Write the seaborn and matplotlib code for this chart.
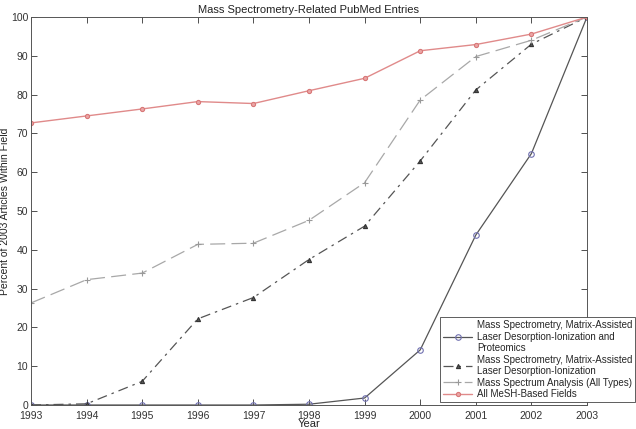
import matplotlib
matplotlib.use("Agg")
import matplotlib.pyplot as plt
import seaborn as sns
import pandas as pd

years = [1993, 1994, 1995, 1996, 1997, 1998, 1999, 2000, 2001, 2002, 2003]
proteomics = [0.0, 0.0, 0.0, 0.0, 0.0, 0.2, 1.8, 14.2, 43.8, 64.8, 100.0]
maldi = [0.0, 0.3, 6.1, 22.2, 27.7, 37.5, 46.1, 62.9, 81.2, 93.0, 100.0]
ms_analysis = [26.3, 32.3, 34.0, 41.4, 41.7, 47.6, 57.3, 78.6, 89.8, 94.0, 100.0]
mesh_all = [72.7, 74.5, 76.3, 78.2, 77.7, 81.0, 84.2, 91.3, 92.9, 95.6, 100.0]

labels = [
    "Mass Spectrometry, Matrix-Assisted\nLaser Desorption-Ionization and\nProteomics",
    "Mass Spectrometry, Matrix-Assisted\nLaser Desorption-Ionization",
    "Mass Spectrum Analysis (All Types)",
    "All MeSH-Based Fields",
]

sns.set_theme(style="white")
plt.rcParams['font.family'] = ['Liberation Sans', 'DejaVu Sans']

fig = plt.figure(figsize=(6.36, 4.29), dpi=100)
ax = fig.add_axes([31/636, 24/429, (587-31)/636, (405-17)/429])

styles = [
    dict(data=proteomics, color="#555555", ls="-", marker="o", mfc="none", mec="#7070b0", ms=4, lw=0.9),
    dict(data=maldi, color="#555555", ls=(0, (8, 4, 2, 4)), marker="^", mfc="#555555", mec="#333333", ms=3, lw=0.9),
    dict(data=ms_analysis, color="#a8a8a8", ls=(0, (12, 5)), marker="+", mfc="none", mec="#999999", ms=4, lw=0.9),
    dict(data=mesh_all, color="#e08a8a", ls="-", marker="o", mfc="#eba5a5", mec="#d87878", ms=3, lw=1.0),
]

for s, lab in zip(styles, labels):
    df = pd.DataFrame({"Year": years, "Value": s["data"]})
    sns.lineplot(data=df, x="Year", y="Value", ax=ax, color=s["color"], label=lab,
                 linestyle=s["ls"], linewidth=s["lw"], marker=s["marker"],
                 markerfacecolor=s["mfc"], markeredgecolor=s["mec"],
                 markersize=s["ms"], markeredgewidth=0.8)

ax.set_xlim(1993, 2003)
ax.set_ylim(0, 100)
ax.set_xticks(years)
ax.set_yticks(range(0, 101, 10))
ax.tick_params(axis="both", which="both", direction="in", length=4, width=0.6,
               labelsize=7.5, colors="#333333", top=True, right=True,
               bottom=True, left=True, labeltop=False, labelright=False, pad=2)
ax.tick_params(axis="x", pad=4)
for sp in ax.spines.values():
    sp.set_visible(True)
    sp.set_color("#555555")
    sp.set_linewidth(0.7)

ax.set_xlabel("Year", fontsize=8, color="#222222", labelpad=-1)
ax.set_ylabel("Percent of 2003 Articles Within Field", fontsize=7.5, color="#222222", labelpad=0.5)
ax.set_title("Mass Spectrometry-Related PubMed Entries", fontsize=8, color="#222222", pad=3)

leg = ax.legend(loc="lower left", bbox_to_anchor=(440/636, 27/429), bbox_transform=fig.transFigure,
                fontsize=7, frameon=True, fancybox=False, edgecolor="#444444",
                borderpad=0.3, labelspacing=0.15, handlelength=3.0, handletextpad=0.5,
                borderaxespad=0)
leg.get_frame().set_linewidth(0.6)
leg.get_frame().set_alpha(1)

fig.savefig("out.png", dpi=100)
